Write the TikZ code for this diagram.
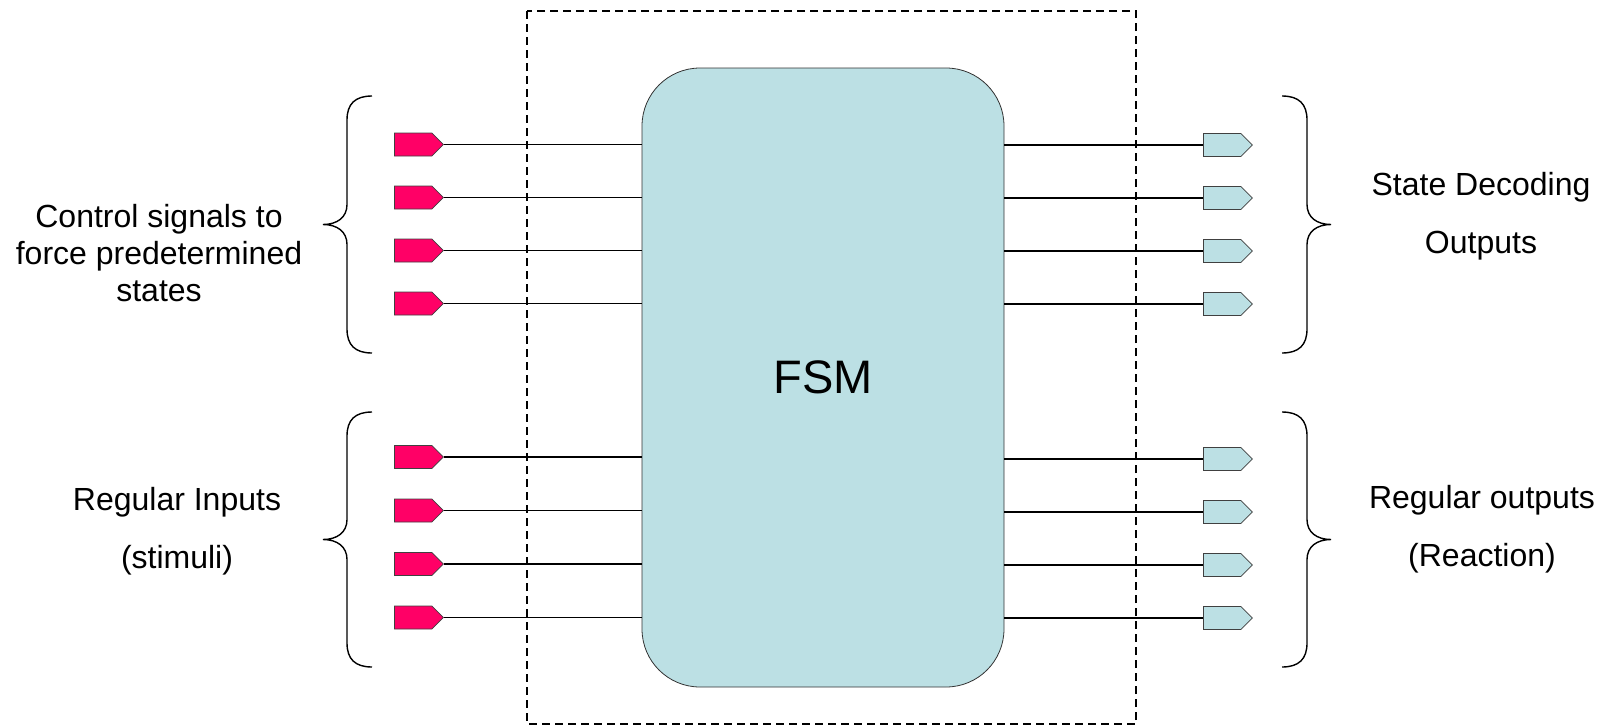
\documentclass[tikz,border=0pt]{standalone}
\usepackage{fontspec}
\setmainfont{Liberation Sans}
\usetikzlibrary{shapes.symbols}
\definecolor{pinred}{RGB}{255,0,102}
\definecolor{fsmcyan}{RGB}{188,224,228}
\tikzset{
  pinbase/.style={signal, signal to=east, signal from=nowhere, signal pointer angle=90,
    draw=black!75, line width=0.8pt, minimum width=49pt, minimum height=23pt, inner sep=0pt, anchor=west},
  inpin/.style={pinbase, fill=pinred},
  outpin/.style={pinbase, fill=fsmcyan},
  wire/.style={line width=1.4pt},
  bracestyle/.style={line width=1.4pt},
  lbl/.style={align=center, font=\fontsize{32}{37}\selectfont},
  lbltwo/.style={align=center, font=\fontsize{32}{58}\selectfont},
}
\begin{document}
\begin{tikzpicture}[x=1pt,y=-1pt]
\useasboundingbox (0,0) rectangle (1603,726);
% dashed frame
\draw[dashed, line width=1.3pt, dash pattern=on 8pt off 5pt] (527,11) rectangle (1136,724);
% FSM
\node[draw=black!80, line width=0.8pt, fill=fsmcyan, rounded corners=58pt,
      minimum width=362pt, minimum height=619pt, inner sep=0pt,
      font=\fontsize{47}{50}\selectfont] (fsm) at (823,377.5) {\raisebox{-5.5pt}{FSM}};
% input pins
\foreach \i/\y in {1/144.5,2/197.5,3/250.5,4/303.5,5/457,6/510.5,7/564,8/617.5}{
  \node[inpin] (in\i) at (394,\y) {};
  \draw[wire] (in\i.east) -- (in\i.east -| fsm.west);
}
% output pins
\foreach \i/\y in {1/145,2/198,3/251,4/304,5/459,6/512,7/565,8/618}{
  \node[outpin] (out\i) at (1203,\y) {};
  \draw[wire] (fsm.east |- out\i.west) -- (out\i.west);
}
% left braces
\foreach \t/\b in {96/353,412/667}{
  \pgfmathsetmacro{\m}{(\t+\b)/2}
  \draw[bracestyle] (372,\t) .. controls (355,\t) and (347,\t+8) .. (347,\t+24)
    -- (347,\m-20) .. controls (347,\m-7) and (337,\m) .. (323,\m)
    .. controls (337,\m) and (347,\m+7) .. (347,\m+20)
    -- (347,\b-24) .. controls (347,\b-8) and (355,\b) .. (372,\b);
}
% right braces
\foreach \t/\b in {96/353,412/667}{
  \pgfmathsetmacro{\m}{(\t+\b)/2}
  \draw[bracestyle] (1282,\t) .. controls (1299,\t) and (1307,\t+8) .. (1307,\t+24)
    -- (1307,\m-20) .. controls (1307,\m-7) and (1317,\m) .. (1331,\m)
    .. controls (1317,\m) and (1307,\m+7) .. (1307,\m+20)
    -- (1307,\b-24) .. controls (1307,\b-8) and (1299,\b) .. (1282,\b);
}
% labels
\node[lbl] (lctl) at (159,253) {Control signals to\\force predetermined\\states};
\node[lbltwo] (lreg) at (177,531) {Regular Inputs\\(stimuli)};
\node[lbltwo] (rsd) at (1481,216) {State Decoding\\Outputs};
\node[lbltwo] (rreg) at (1482,529) {Regular outputs\\(Reaction)};
\end{tikzpicture}
\end{document}
